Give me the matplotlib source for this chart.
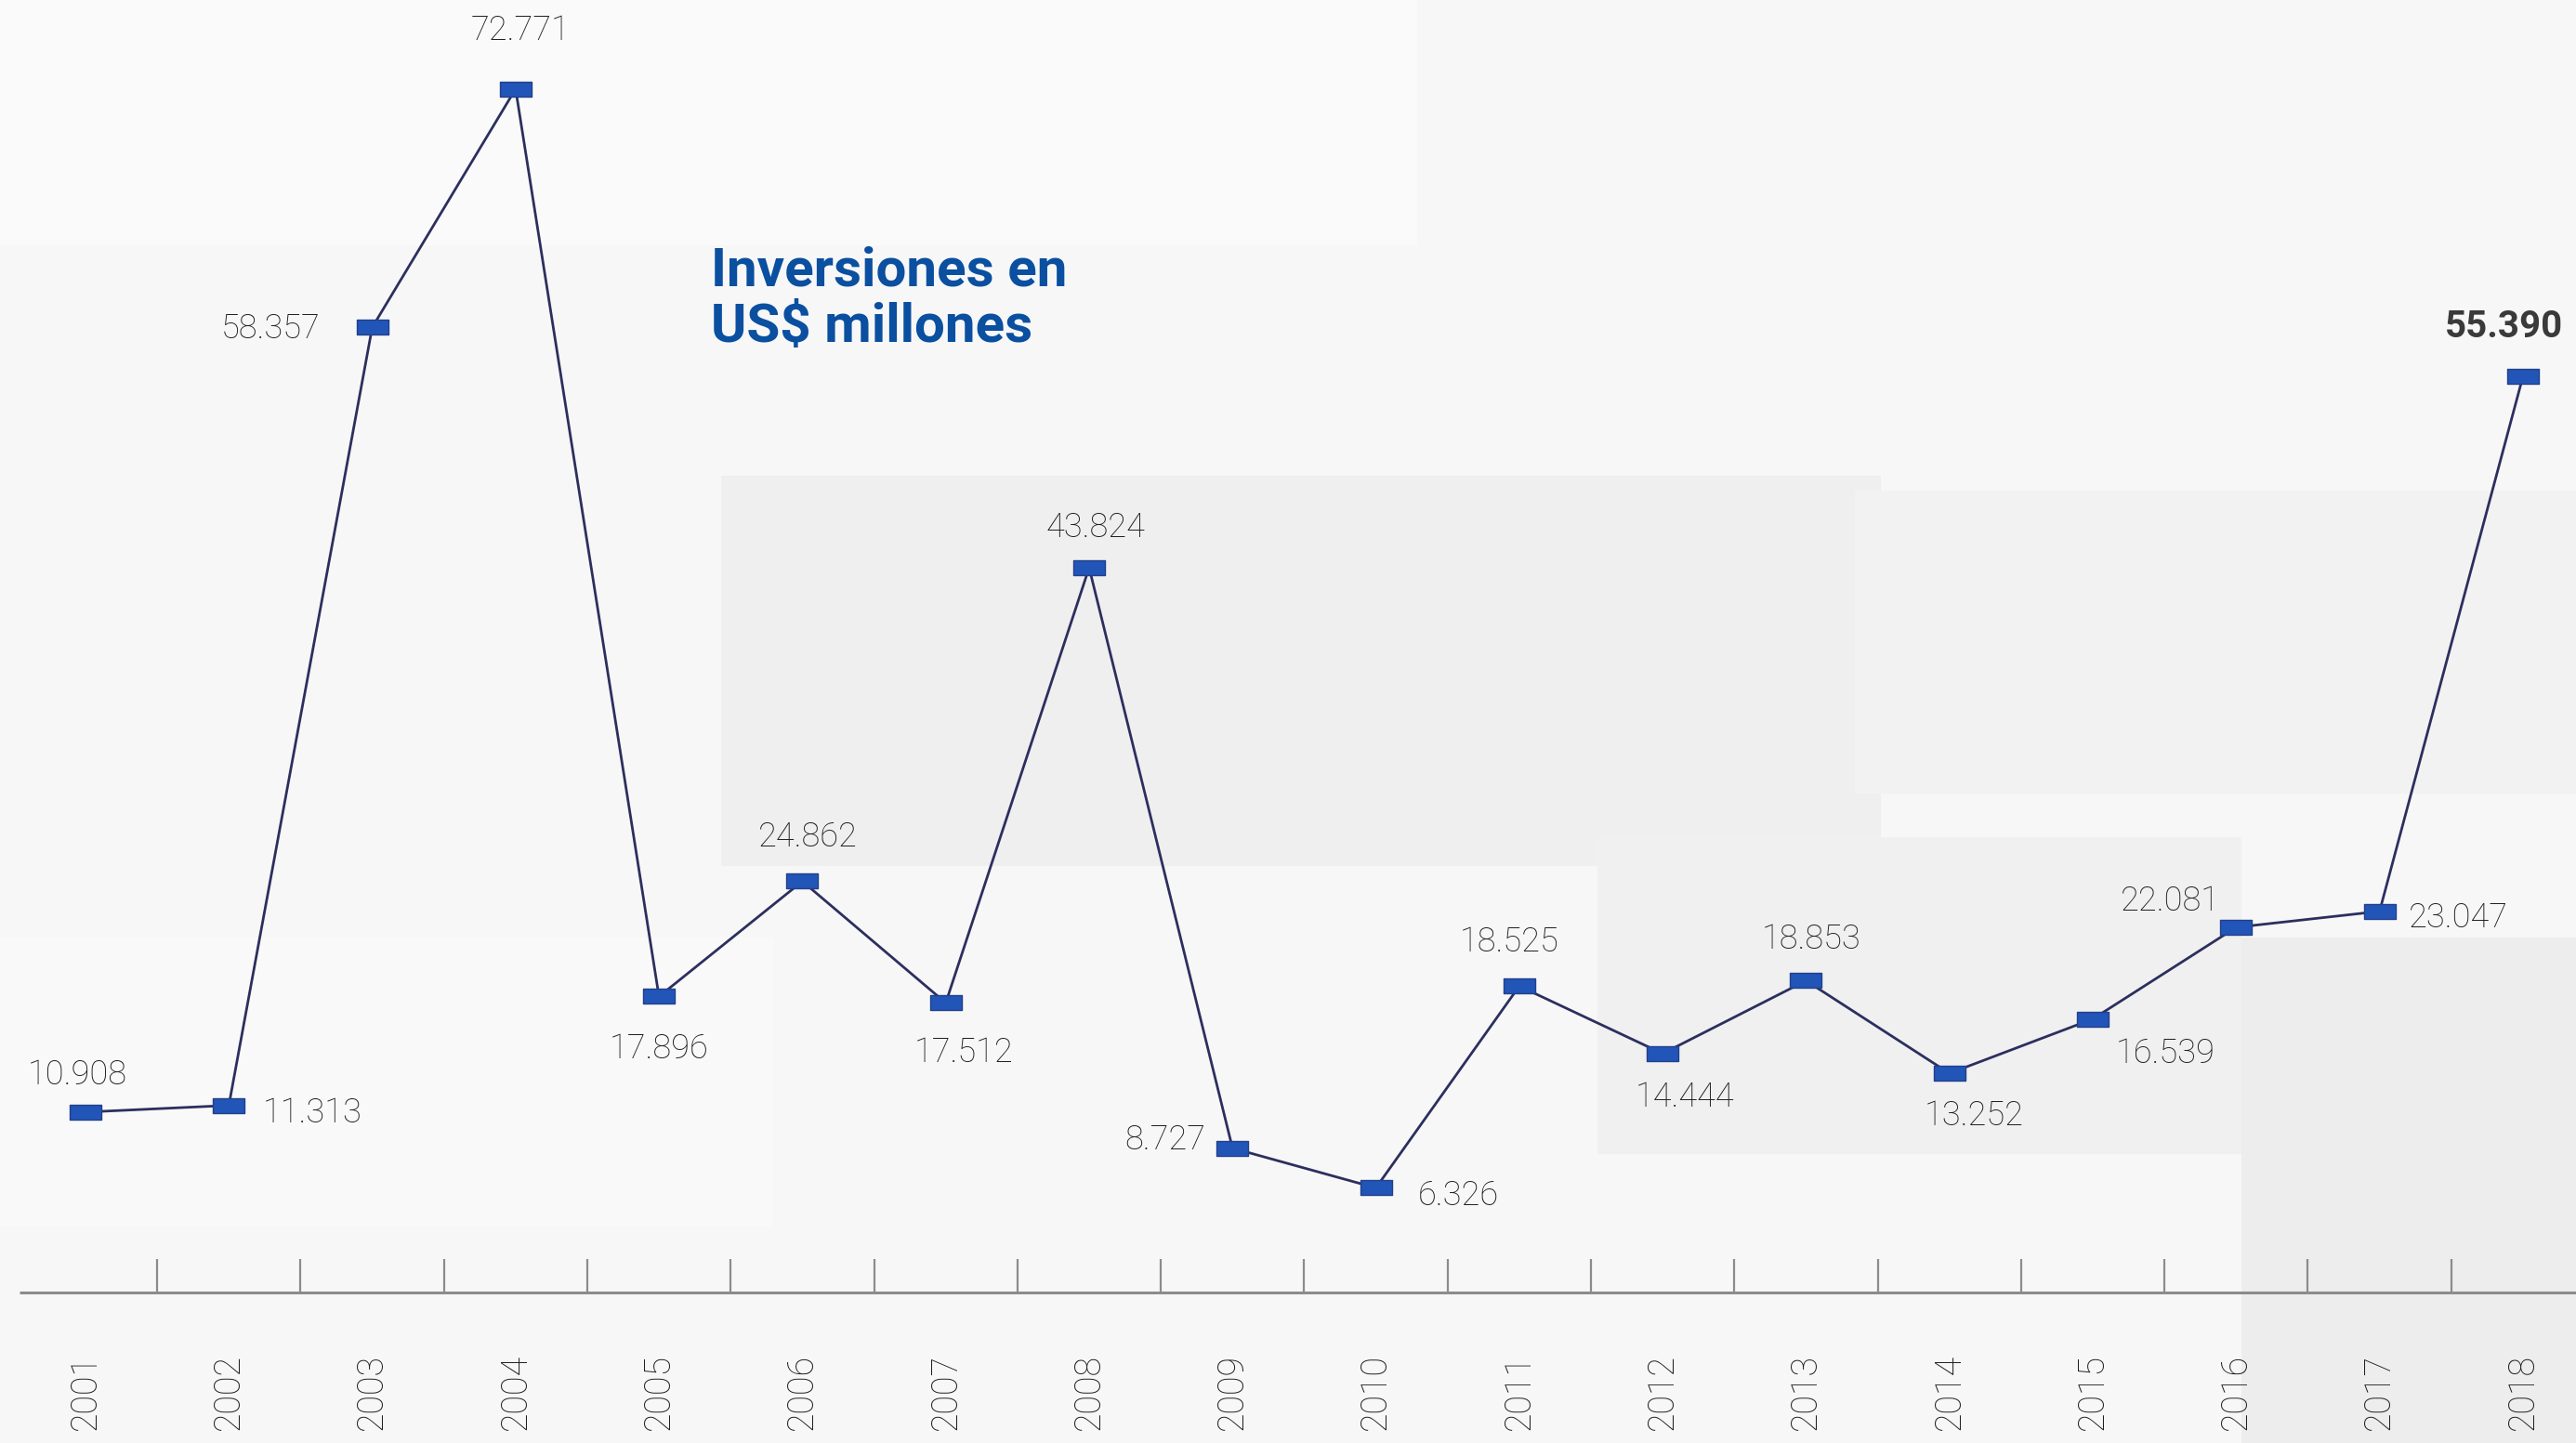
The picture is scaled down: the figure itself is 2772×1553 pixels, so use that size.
import numpy as np
import matplotlib.pyplot as plt
from matplotlib.path import Path
from matplotlib.patches import Rectangle

years = [2001, 2002, 2003, 2004, 2005, 2006, 2007, 2008, 2009,
         2010, 2011, 2012, 2013, 2014, 2015, 2016, 2017, 2018]
inversion = [10.908, 11.313, 58.357, 72.771, 17.896, 24.862, 17.512, 43.824, 8.727,
             6.326, 18.525, 14.444, 18.853, 13.252, 16.539, 22.081, 23.047, 55.390]
labels = ["10.908", "11.313", "58.357", "72.771", "17.896", "24.862", "17.512", "43.824", "8.727",
          "6.326", "18.525", "14.444", "18.853", "13.252", "16.539", "22.081", "23.047", "55.390"]

# label offsets in points (dx, dy) from each marker
offs = [(-6, 29), (65, -6), (-79, -1), (4, 45), (0, -41), (4, 34), (14, -39), (5, 31), (-52, 6),
        (64, -6), (-8, 34), (17, -34), (4, 32), (19, -33), (56, -27), (-51, 20), (61, -5), (-15, 38)]

plt.rcParams['font.family'] = ['Roboto', 'DejaVu Sans']

fig = plt.figure(figsize=(27.72, 15.53), dpi=100)
fig.patch.set_facecolor('#f7f7f7')
ax = fig.add_axes([0, 0, 1, 1])
ax.set_facecolor('#f7f7f7')
ax.set_xlim(2000.404, 2018.37)
ax.set_ylim(-9.10, 78.15)
ax.axis('off')

# soft background blocks
for (x0, y0, w, h, c) in [(0.0, 0.83, 0.55, 0.17, '#fafafa'), (0.28, 0.40, 0.45, 0.27, '#efefef'),
                          (0.72, 0.45, 0.28, 0.21, '#f2f2f2'), (0.87, 0.0, 0.13, 0.35, '#ededed'),
                          (0.62, 0.20, 0.25, 0.22, '#f0f0f0'), (0.0, 0.15, 0.30, 0.20, '#f9f9f9')]:
    ax.add_patch(Rectangle((x0, y0), w, h, transform=ax.transAxes, color=c, lw=0, zorder=0))

# baseline and year separators
ax.plot([2000.54, 2018.37], [0, 0], color='#8c8c8c', lw=2.2, zorder=1, solid_capstyle='butt')
ax.vlines(np.array(years[:-1]) + 0.5, 0, 2.0, color='#8c8c8c', lw=1.6, zorder=1)

for y in years:
    ax.text(y, -6.0, str(y), rotation=90, ha='center', va='center', fontsize=27,
            fontweight='light', color='#1e1e1e')

rect = Path([(-1, -0.45), (1, -0.45), (1, 0.45), (-1, 0.45), (-1, -0.45)],
            [Path.MOVETO, Path.LINETO, Path.LINETO, Path.LINETO, Path.CLOSEPOLY])
ax.plot(years, inversion, color='#2c2f5e', lw=2.0, zorder=3,
        marker=rect, markersize=25, markerfacecolor='#2155b8',
        markeredgecolor='#23408a', markeredgewidth=1.0)

for i, (y, v, t) in enumerate(zip(years, inversion, labels)):
    last = i == len(years) - 1
    ax.annotate(t, (y, v), xytext=offs[i], textcoords='offset points',
                ha='center', va='center', fontsize=29 if last else 26,
                fontweight='bold' if last else 'light',
                color='#3a3a3a' if last else '#1e1e1e', zorder=4)

ax.text(0.276, 0.83, "Inversiones en\nUS$ millones", transform=ax.transAxes,
        ha='left', va='top', fontsize=42, fontweight='bold', color='#0a4fa0',
        linespacing=1.15)

fig.savefig('out.png', dpi=100, facecolor=fig.get_facecolor())
